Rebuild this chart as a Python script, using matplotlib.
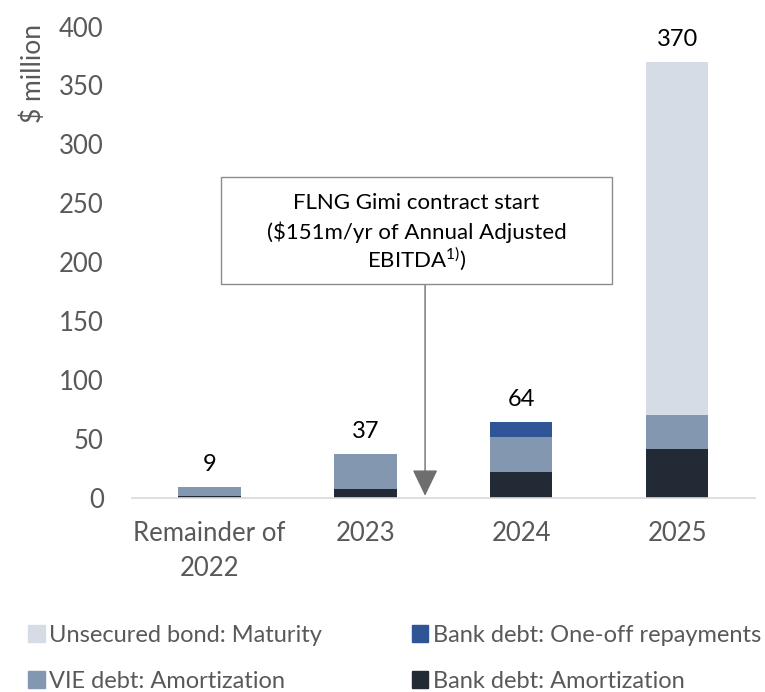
import numpy as np
import matplotlib
matplotlib.use("Agg")
import matplotlib.pyplot as plt
from matplotlib.patches import Rectangle, Patch

plt.rcParams['font.family'] = ['Lato', 'DejaVu Sans']
plt.rcParams['mathtext.fontset'] = 'custom'
plt.rcParams['mathtext.rm'] = 'Lato'

# debt maturity profile, $ million
periods = ["Remainder of\n2022", "2023", "2024", "2025"]
bank_amort = [1, 7, 22, 41]
vie_amort = [8, 30, 29, 29]
bank_oneoff = [0, 0, 13, 0]
bond_maturity = [0, 0, 0, 300]
totals = [9, 37, 64, 370]

c_bond = "#D6DCE5"
c_oneoff = "#2F5597"
c_vie = "#8497B0"
c_bank = "#222A35"
grey_txt = "#595959"

fig = plt.figure(figsize=(7.65, 6.92), dpi=100)
ax = fig.add_axes([0.172, 0.281, 0.815, 0.6806])

x = np.arange(len(periods))
w = 0.4
bottom = np.zeros(len(periods))
for vals, col in [(bank_amort, c_bank), (vie_amort, c_vie),
                  (bank_oneoff, c_oneoff), (bond_maturity, c_bond)]:
    ax.bar(x, vals, w, bottom=bottom, color=col, linewidth=0)
    bottom += np.array(vals)

for xi, t in zip(x, totals):
    ax.annotate(str(t), (xi, t), xytext=(0, 16), textcoords="offset points",
                ha="center", va="center", fontsize=17, color="black")

ax.set_xlim(-0.5, 3.5)
ax.set_ylim(0, 400)
ax.set_yticks(np.arange(0, 401, 50))
ax.set_xticks(x)
ax.set_xticklabels(periods, fontsize=18.5, color=grey_txt, linespacing=1.5)
ax.tick_params(axis="y", length=0, pad=20, labelsize=18.5, labelcolor=grey_txt)
ax.tick_params(axis="x", length=0, pad=17)
for s in ["left", "right", "top"]:
    ax.spines[s].set_visible(False)
ax.spines["bottom"].set_color("#D9D9D9")
ax.spines["bottom"].set_linewidth(1.2)

fig.text(33 / 765, 1 - 73.5 / 692, "$ million", rotation=90, ha="center",
         va="center", fontsize=19, color=grey_txt)

# callout box for the FLNG Gimi contract start
box_x0, box_x1 = 0.074, 2.583
box_y0, box_y1 = 181.3, 272.2
ax.add_patch(Rectangle((box_x0, box_y0), box_x1 - box_x0, box_y1 - box_y0,
                       facecolor="white", edgecolor="#8C8C8C", linewidth=1.0,
                       zorder=3))
bx = (box_x0 + box_x1) / 2
ax.text(bx, 250, "FLNG Gimi contract start", ha="center", va="center",
        fontsize=16, zorder=4)
ax.text(bx, 225, "($151m/yr of Annual Adjusted", ha="center", va="center",
        fontsize=16, zorder=4)
ax.text(bx, 203, r"EBITDA$^{1)}$)", ha="center", va="center",
        fontsize=16, zorder=4)

arrow_x = 1.383
ax.annotate("", xy=(arrow_x, 1.5), xytext=(arrow_x, box_y0),
            arrowprops=dict(arrowstyle="-|>,head_length=0.83,head_width=0.4",
                            mutation_scale=20, color="#6E6E6E", lw=1.0,
                            shrinkA=0, shrinkB=0), zorder=2)

handles = [Patch(color=c_bond), Patch(color=c_vie),
           Patch(color=c_oneoff), Patch(color=c_bank)]
labels = ["Unsecured bond: Maturity", "VIE debt: Amortization",
          "Bank debt: One-off repayments", "Bank debt: Amortization"]
leg = fig.legend(handles, labels, ncol=2, loc="upper left",
                 bbox_to_anchor=(28 / 765, 1 - 625 / 692), frameon=False,
                 fontsize=17, handlelength=0.7, handleheight=0.7,
                 handletextpad=0.2, labelspacing=1.05, columnspacing=3.8,
                 borderaxespad=0, borderpad=0)
for t in leg.get_texts():
    t.set_color(grey_txt)

fig.savefig("out.png", dpi=100)
